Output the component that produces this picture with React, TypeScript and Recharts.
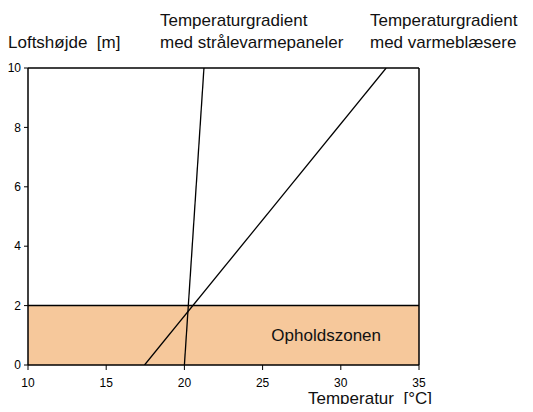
import * as React from 'react'
import { ComposedChart, Line, XAxis, YAxis, ReferenceArea, ReferenceLine } from 'recharts'

const xTicks = [10, 15, 20, 25, 30, 35]
const yTicks = [0, 2, 4, 6, 8, 10]

// gradient lines: [temperature, height]
const radiantLine = [
  { x: 20.0, y: 0 },
  { x: 21.25, y: 10 },
]
const fanLine = [
  { x: 17.45, y: 0 },
  { x: 32.9, y: 10 },
]

const zone = { from: 0, to: 2, label: 'Opholdszonen' }

const font = '"Liberation Sans", Arial, Helvetica, sans-serif'
const tickStyle = { fontSize: 12, fill: '#000', fontFamily: font }

const textStyle: React.CSSProperties = {
  position: 'absolute',
  fontFamily: font,
  fontSize: 17,
  lineHeight: '22px',
  color: '#111',
  whiteSpace: 'nowrap',
}

export default function App() {
  return (
    <div style={{ position: 'relative', width: 517, height: 396 }}>
      <ComposedChart
        width={517}
        height={396}
        margin={{ top: 60, right: 106, bottom: 19, left: 0 }}
      >
        <XAxis
          type="number"
          dataKey="x"
          domain={[10, 35]}
          ticks={xTicks}
          tick={tickStyle}
          tickSize={5}
          tickMargin={8}
          axisLine={{ stroke: '#000', strokeWidth: 1.5 }}
          tickLine={{ stroke: '#000' }}
          height={20}
          allowDataOverflow
        />
        <YAxis
          type="number"
          dataKey="y"
          domain={[0, 10]}
          ticks={yTicks}
          tick={tickStyle}
          tickSize={4}
          tickMargin={3}
          axisLine={{ stroke: '#000', strokeWidth: 1.5 }}
          tickLine={{ stroke: '#000' }}
          width={20}
          allowDataOverflow
        />
        <ReferenceArea
          x1={10}
          x2={35}
          y1={zone.from}
          y2={zone.to}
          fill="#F6C89B"
          fillOpacity={1}
          stroke="none"
          label={{ value: zone.label, position: 'insideRight', offset: 38, fontSize: 17, fill: '#111', fontFamily: font }}
        />
        <ReferenceLine y={zone.to} stroke="#000" strokeWidth={1.5} />
        <ReferenceLine y={10} stroke="#000" strokeWidth={1.5} />
        <ReferenceLine x={35} stroke="#000" strokeWidth={1.5} />
        <Line
          data={radiantLine}
          dataKey="y"
          stroke="#000"
          strokeWidth={1.3}
          dot={false}
          isAnimationActive={false}
        />
        <Line
          data={fanLine}
          dataKey="y"
          stroke="#000"
          strokeWidth={1.3}
          dot={false}
          isAnimationActive={false}
        />
      </ComposedChart>
      <div style={{ ...textStyle, left: 0, top: 24 }}>Loftshøjde&nbsp; [m]</div>
      <div style={{ ...textStyle, left: 152, top: 2 }}>
        Temperaturgradient
        <br />
        med strålevarmepaneler
      </div>
      <div style={{ ...textStyle, left: 362, top: 2 }}>
        Temperaturgradient
        <br />
        med varmeblæsere
      </div>
      <div style={{ ...textStyle, left: 300, top: 380 }}>Temperatur&nbsp; [°C]</div>
    </div>
  )
}
